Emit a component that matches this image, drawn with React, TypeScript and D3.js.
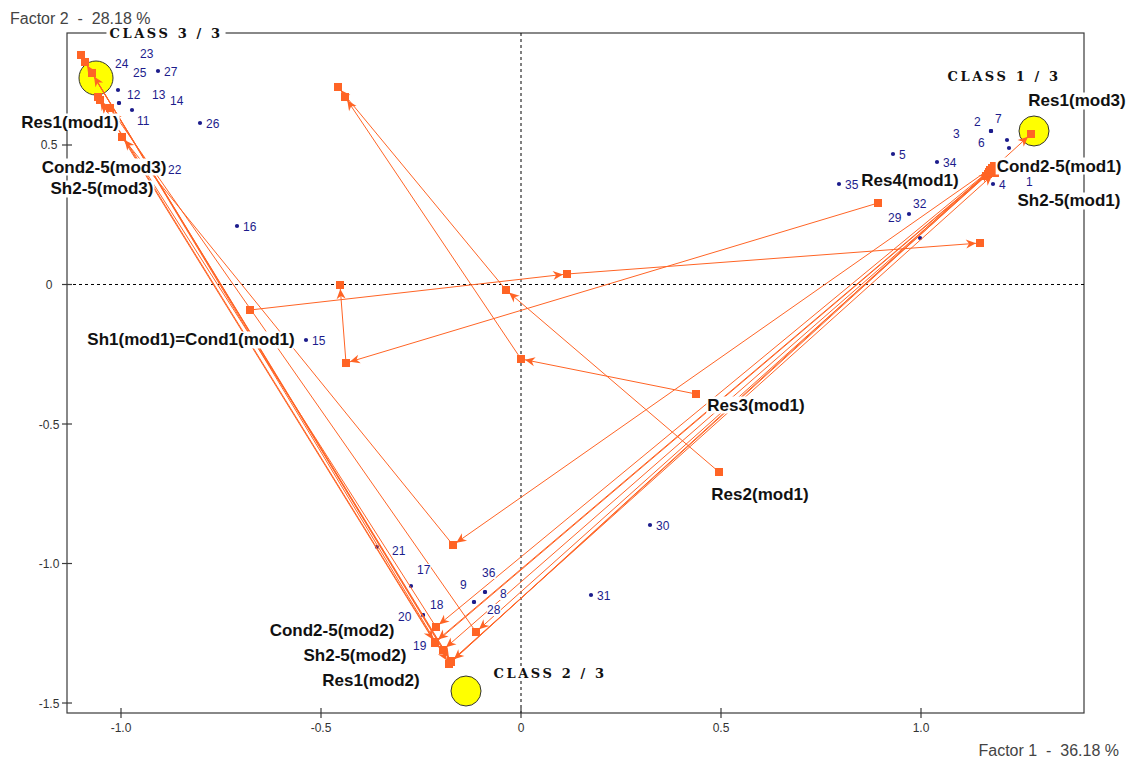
import React, { useEffect, useRef } from "react";
import * as d3 from "d3";

const W = 1126;
const H = 761;

// axis domains (factor coordinates)
const xDomain: [number, number] = [-1.135, 1.4075];
const yDomain: [number, number] = [-1.5358, 0.9014];

const xTicks = [-1.0, -0.5, 0, 0.5, 1.0];
const xTickLabels = ["-1.0", "-0.5", "0", "0.5", "1.0"];
const yTicks = [0.5, 0, -0.5, -1.0, -1.5];
const yTickLabels = ["0.5", "0", "-0.5", "-1.0", "-1.5"];

const xTitle = "Factor 1  -  36.18 %";
const yTitle = "Factor 2  -  28.18 %";

// individuals: id, factor1, factor2
const individuals: [string, number, number][] = [
  ["1", 1.22, 0.4892],
  ["2", 1.175, 0.5502],
  ["3", 1.175, 0.5502],
  ["4", 1.18, 0.3602],
  ["5", 0.93, 0.4677],
  ["6", 1.215, 0.5179],
  ["7", 1.175, 0.5502],
  ["8", -0.09, -1.1022],
  ["9", -0.1175, -1.138],
  ["11", -0.9725, 0.6254],
  ["12", -1.0075, 0.6971],
  ["13", -1.005, 0.6505],
  ["14", -1.005, 0.6505],
  ["15", -0.5375, -0.1989],
  ["16", -0.71, 0.2097],
  ["17", -0.275, -1.0806],
  ["18", -0.245, -1.1846],
  ["19", -0.215, -1.2814],
  ["20", -0.245, -1.1846],
  ["21", -0.36, -0.9409],
  ["22", -0.8975, 0.4247],
  ["23", -1.04, 0.7616],
  ["24", -1.04, 0.7616],
  ["25", -1.04, 0.7616],
  ["26", -0.8025, 0.5789],
  ["27", -0.9075, 0.7652],
  ["28", -0.1175, -1.138],
  ["29", 0.97, 0.2527],
  ["30", 0.3225, -0.862],
  ["31", 0.175, -1.1129],
  ["32", 0.9975, 0.1667],
  ["34", 1.04, 0.4391],
  ["35", 0.795, 0.3602],
  ["36", -0.09, -1.1022],
];

// label placement offsets (px) for individual labels, relative to the point
const individualLabelOffset: Record<string, [number, number]> = {
  "1": [17, 34],
  "2": [-17, -9],
  "3": [-38, 3],
  "6": [-29, 3],
  "7": [4, -12],
  "8": [15, 2],
  "9": [-14, -17],
  "11": [5, 11],
  "12": [9, 5],
  "13": [33, -8],
  "14": [51, -2],
  "17": [6, -16],
  "18": [7, -10],
  "19": [-22, 4],
  "20": [-25, 2],
  "21": [15, 4],
  "22": [6, 4],
  "23": [35, -18],
  "24": [10, -8],
  "25": [28, 1],
  "28": [13, 8],
  "29": [-21, 4],
  "32": [-7, -34],
  "36": [-3, -19],
};

// trajectories of active modalities (mod1 -> mod2 -> mod3)
const trajectories: { name: string; pts: [number, number][] }[] = [
  { name: "Cond2", pts: [[1.1725, 0.4104], [-0.2125, -1.2276], [-1.0575, 0.672]] },
  { name: "Cond3", pts: [[1.1675, 0.3961], [-0.195, -1.31], [-1.0725, 0.7581]] },
  { name: "Cond4", pts: [[1.1775, 0.4176], [-0.175, -1.353], [-1.09, 0.7975]] },
  { name: "Cond5", pts: [[1.1625, 0.3889], [-0.1125, -1.2455], [-1.0275, 0.6326]] },
  { name: "Sh2", pts: [[1.1825, 0.4247], [-0.17, -0.9337], [-0.9975, 0.5287]] },
  { name: "Sh3", pts: [[1.17, 0.4032], [-0.215, -1.2814], [-1.0525, 0.6613]] },
  { name: "Res1", pts: [[-1.1, 0.8226], [-0.18, -1.3602], [1.275, 0.5394]] },
  { name: "Sh4", pts: [[-0.9975, 0.5287], [-0.215, -1.2849], [1.1775, 0.4104]] },
  { name: "Sh5", pts: [[-1.0725, 0.7581], [-0.175, -1.3495], [1.185, 0.3996]] },
  { name: "Sh1=Cond1", pts: [[-0.6775, -0.0914], [0.115, 0.0376], [1.1475, 0.1487]] },
  { name: "Res4", pts: [[0.8925, 0.2921], [-0.4375, -0.2814], [-0.4525, -0.0018]] },
  { name: "Res3", pts: [[0.4375, -0.3925], [0.0, -0.267], [-0.44, 0.672]] },
  { name: "Res2", pts: [[0.495, -0.672], [-0.0375, -0.0197], [-0.4575, 0.7079]] },
];

// modality labels: text, x, y (label centre, factor coords)
const modalityLabels: [string, number, number][] = [
  ["Res1(mod1)", -1.1275, 0.5824],
  ["Cond2-5(mod3)", -1.0425, 0.4211],
  ["Sh2-5(mod3)", -1.0475, 0.3423],
  ["Res1(mod3)", 1.39, 0.6577],
  ["Cond2-5(mod1)", 1.345, 0.4247],
  ["Sh2-5(mod1)", 1.37, 0.2993],
  ["Res4(mod1)", 0.9725, 0.371],
  ["Res3(mod1)", 0.5875, -0.4319],
  ["Res2(mod1)", 0.5975, -0.7509],
  ["Sh1(mod1)=Cond1(mod1)", -0.825, -0.1989],
  ["Cond2-5(mod2)", -0.4725, -1.2419],
  ["Sh2-5(mod2)", -0.415, -1.3315],
  ["Res1(mod2)", -0.375, -1.4176],
];

// class centroids
const classNames = ["CLASS 1 / 3", "CLASS 2 / 3", "CLASS 3 / 3"];
const classCentroids: [number, number][] = [
  [1.2825, 0.5502],
  [-0.1375, -1.457],
  [-1.0625, 0.7401],
];
const classLabelPos: [number, number][] = [
  [1.2075, 0.7437],
  [0.0725, -1.3925],
  [-0.8875, 0.9014],
];
const classRadius = [15, 15, 17];

const ORANGE = "#ff6425";
const NAVY = "#1c1c8c";
const FRAME = "#3a3a3a";
const SANS = "'Liberation Sans', Arial, sans-serif";

export default function App() {
  const ref = useRef<SVGSVGElement>(null);

  useEffect(() => {
    const svg = d3.select(ref.current!);
    svg.selectAll("*").remove();

    const x = d3.scaleLinear().domain(xDomain).range([67, 1084]);
    const y = d3.scaleLinear().domain(yDomain).range([713, 33]);
    const [x0, x1] = x.range();
    const [y0, y1] = y.range();

    svg.append("rect").attr("width", W).attr("height", H).attr("fill", "#fff");

    // frame
    const frame = svg.append("g").attr("stroke", FRAME).attr("stroke-width", 1.2).attr("fill", "none");
    frame.append("rect").attr("x", x0).attr("y", y1).attr("width", x1 - x0).attr("height", y0 - y1);

    // zero lines
    const zero = svg.append("g").attr("stroke", "#000").attr("stroke-width", 1).attr("stroke-dasharray", "3,3");
    zero.append("line").attr("x1", x(0)).attr("x2", x(0)).attr("y1", y1).attr("y2", y0);
    zero.append("line").attr("x1", x0).attr("x2", x1).attr("y1", y(0)).attr("y2", y(0));

    // ticks
    const ticks = svg.append("g");
    xTicks.forEach((t, i) => {
      ticks.append("line").attr("x1", x(t)).attr("x2", x(t)).attr("y1", y0 - 5).attr("y2", y0 + 5)
        .attr("stroke", FRAME).attr("stroke-width", 1.2);
      ticks.append("text").attr("x", x(t)).attr("y", y0 + 19).attr("text-anchor", "middle")
        .attr("font-family", SANS).attr("font-size", 12).attr("fill", "#333").text(xTickLabels[i]);
    });
    yTicks.forEach((t, i) => {
      ticks.append("line").attr("x1", x0 - 5).attr("x2", x0 + 5).attr("y1", y(t)).attr("y2", y(t))
        .attr("stroke", FRAME).attr("stroke-width", 1.2);
      ticks.append("text").attr("x", x0 - 18).attr("y", y(t) + 4.5).attr("text-anchor", "middle")
        .attr("font-family", SANS).attr("font-size", 12).attr("fill", "#333").text(yTickLabels[i]);
    });

    // axis titles
    svg.append("text").attr("x", 10).attr("y", 24).attr("font-family", SANS).attr("font-size", 16)
      .attr("fill", "#444").style("white-space", "pre").text(yTitle);
    svg.append("text").attr("x", 1119).attr("y", 756).attr("text-anchor", "end").attr("font-family", SANS)
      .attr("font-size", 16).attr("fill", "#444").style("white-space", "pre").text(xTitle);

    // individual points
    const dots = svg.append("g");
    individuals.forEach(([, fx, fy]) => {
      dots.append("circle").attr("cx", x(fx)).attr("cy", y(fy)).attr("r", 2.1).attr("fill", NAVY);
    });

    // class centroids
    const cls = svg.append("g");
    classCentroids.forEach(([fx, fy], i) => {
      cls.append("circle").attr("cx", x(fx)).attr("cy", y(fy)).attr("r", classRadius[i])
        .attr("fill", "#ffff00").attr("stroke", "#333").attr("stroke-width", 1);
    });

    // trajectories
    const traj = svg.append("g");
    trajectories.forEach(({ pts }) => {
      const p = pts.map(([fx, fy]) => [x(fx), y(fy)] as [number, number]);
      traj.append("path").attr("d", d3.line()(p)).attr("fill", "none").attr("stroke", ORANGE).attr("stroke-width", 1);
    });
    trajectories.forEach(({ pts }) => {
      const p = pts.map(([fx, fy]) => [x(fx), y(fy)] as [number, number]);
      p.forEach(([px, py]) => {
        traj.append("rect").attr("x", px - 4).attr("y", py - 4).attr("width", 8).attr("height", 8).attr("fill", ORANGE);
      });
      for (let i = 1; i < p.length; i++) {
        const [ax, ay] = p[i - 1];
        const [bx, by] = p[i];
        const len = Math.hypot(bx - ax, by - ay);
        const ux = (bx - ax) / len;
        const uy = (by - ay) / len;
        const tx = bx - ux * 4;
        const ty = by - uy * 4;
        const cx = tx - ux * 10;
        const cy = ty - uy * 10;
        const nx = -uy;
        const ny = ux;
        const tri = [
          [tx, ty],
          [cx + nx * 4.5, cy + ny * 4.5],
          [cx + ux * 3, cy + uy * 3],
          [cx - nx * 4.5, cy - ny * 4.5],
        ];
        traj.append("polygon").attr("points", tri.map((q) => q.join(",")).join(" ")).attr("fill", ORANGE);
      }
    });

    // label helper with white background
    const labels = svg.append("g");
    const addLabel = (
      text: string, lx: number, ly: number, anchor: string, size: number, weight: string,
      color: string, family: string, spacing = 0, pad = 1
    ) => {
      const t = labels.append("text").attr("x", lx).attr("y", ly).attr("text-anchor", anchor)
        .attr("dominant-baseline", "central").attr("font-family", family).attr("font-size", size)
        .attr("font-weight", weight).attr("fill", color).attr("letter-spacing", spacing)
        .style("white-space", "pre").text(text);
      const bb = (t.node() as SVGTextElement).getBBox();
      labels.insert("rect", () => t.node() as any).attr("x", bb.x - pad).attr("y", bb.y + 1)
        .attr("width", bb.width + pad * 2).attr("height", bb.height - 2).attr("fill", "#fff");
    };

    individuals.forEach(([id, fx, fy]) => {
      const off = individualLabelOffset[id] || [6, 1];
      addLabel(id, x(fx) + off[0], y(fy) + off[1], "start", 12, "normal", NAVY, SANS, 0, 0);
    });

    modalityLabels.forEach(([text, fx, fy]) => {
      addLabel(text, x(fx), y(fy), "middle", 17, "bold", "#111", SANS, 0, 1);
    });

    classNames.forEach((name, i) => {
      const [fx, fy] = classLabelPos[i];
      addLabel(name, x(fx), y(fy), "middle", 13, "bold", "#111", "'DejaVu Serif', 'Liberation Serif', serif", 2.6, 3);
    });
  }, []);

  return (
    <div style={{ position: "absolute", left: 0, top: 0 }}>
      <svg ref={ref} width={W} height={H} style={{ display: "block" }} />
    </div>
  );
}
